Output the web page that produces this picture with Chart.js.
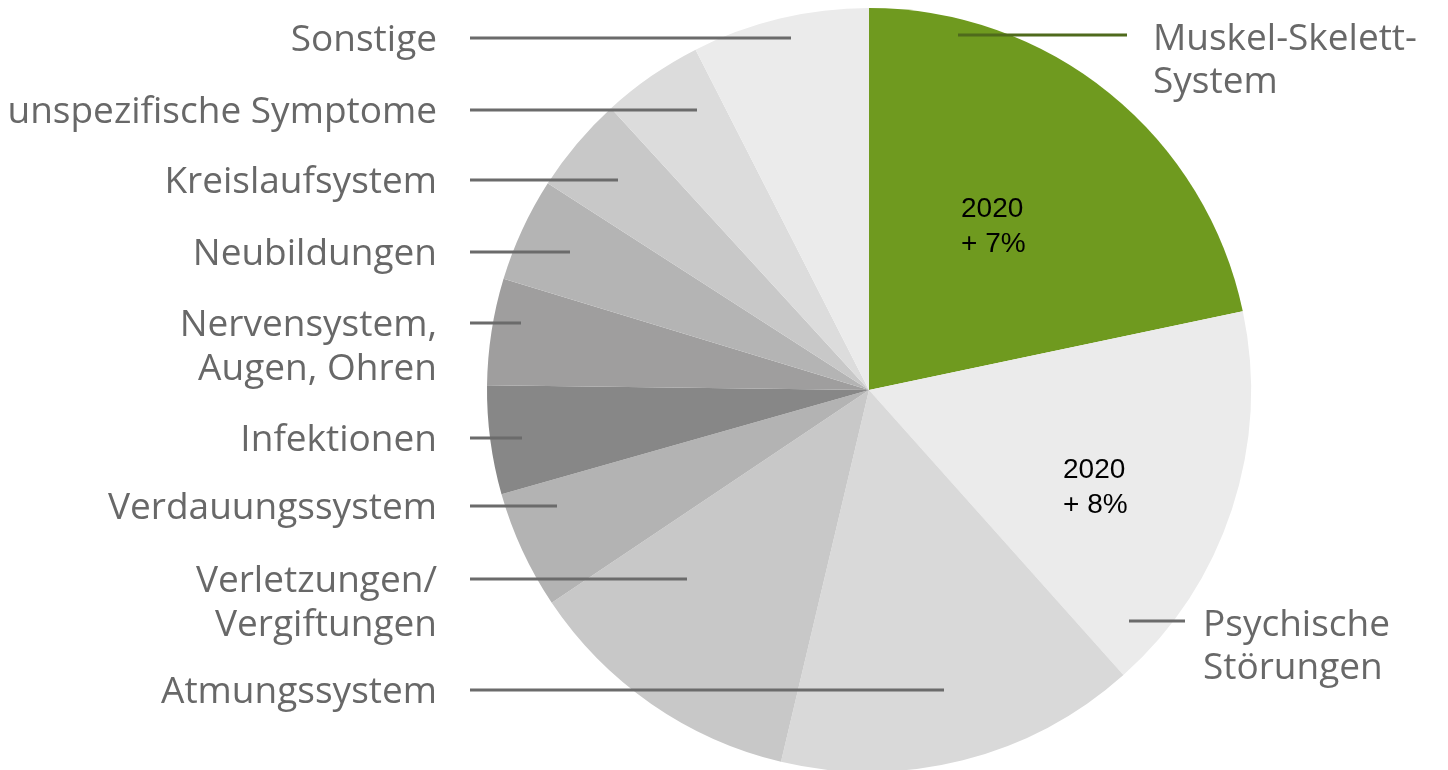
<!DOCTYPE html>
<html>
<head>
<meta charset="utf-8">
<script src="https://cdn.jsdelivr.net/npm/chart.js@4/dist/chart.umd.min.js"></script>
<style>
  html, body { margin: 0; padding: 0; background: #fff; overflow: hidden; }
  #wrap { position: absolute; left: 0; top: 0; width: 1448px; height: 780px; }
</style>
</head>
<body>
<div id="wrap"><canvas id="pieChart" width="1448" height="780"></canvas></div>
<script>
// Anteile der Diagnosegruppen (%), im Uhrzeigersinn ab 12 Uhr
const categories = [
    'Muskel-Skelett-System', 'Psychische Störungen', 'Atmungssystem',
    'Verletzungen/Vergiftungen', 'Verdauungssystem', 'Infektionen',
    'Nervensystem, Augen, Ohren', 'Neubildungen', 'Kreislaufsystem',
    'unspezifische Symptome', 'Sonstige'
];
const shares = [21.7, 16.7, 15.3, 11.9, 5.0, 4.6, 4.5, 4.4, 4.1, 4.3, 7.5];
const sliceColors = [
    '#6f9a1f', '#ebebeb', '#d9d9d9', '#c8c8c8', '#b3b3b3', '#878787',
    '#9f9e9e', '#b4b4b4', '#c8c8c8', '#dcdcdc', '#ebebeb'
];
const changeNotes = [['2020', '+ 7%'], ['2020', '+ 8%']];

// Beschriftungen links: Textzeilen, Höhe der Linie, Ende der Linie
const leftLabels = [
    { lines: ['Sonstige'], y: 38, end: 791 },
    { lines: ['unspezifische Symptome'], y: 110, end: 697 },
    { lines: ['Kreislaufsystem'], y: 180, end: 618 },
    { lines: ['Neubildungen'], y: 252, end: 570 },
    { lines: ['Nervensystem,', 'Augen, Ohren'], y: 323, end: 521 },
    { lines: ['Infektionen'], y: 438, end: 522 },
    { lines: ['Verdauungssystem'], y: 506, end: 557 },
    { lines: ['Verletzungen/', 'Vergiftungen'], y: 579, end: 687 },
    { lines: ['Atmungssystem'], y: 690, end: 944 }
];
const rightLabels = [
    { lines: ['Muskel-Skelett-', 'System'], y: 35, start: 958, stop: 1127, textX: 1153 },
    { lines: ['Psychische', 'Störungen'], y: 621, start: 1129, stop: 1185, textX: 1203 }
];

const labelPlugin = {
    id: 'leaderLabels',
    afterDraw(chart) {
        const ctx = chart.ctx;
        ctx.save();
        ctx.strokeStyle = '#6b6b6b';
        ctx.lineWidth = 3;
        ctx.fillStyle = '#686868';
        ctx.font = '37px "Open Sans", sans-serif';
        ctx.textBaseline = 'alphabetic';

        leftLabels.forEach(l => {
            ctx.beginPath();
            ctx.moveTo(470, l.y);
            ctx.lineTo(l.end, l.y);
            ctx.stroke();
            ctx.textAlign = 'right';
            l.lines.forEach((t, i) => ctx.fillText(t, 437, l.y + 13 + i * 44));
        });

        rightLabels.forEach(l => {
            ctx.strokeStyle = l.start < 1000 ? '#4f6a1c' : '#6b6b6b';
            ctx.beginPath();
            ctx.moveTo(l.start, l.y);
            ctx.lineTo(l.stop, l.y);
            ctx.stroke();
            ctx.textAlign = 'left';
            l.lines.forEach((t, i) => ctx.fillText(t, l.textX, l.y + 15 + i * 43));
        });

        // Veränderung 2020 in den beiden größten Segmenten
        ctx.fillStyle = '#000';
        ctx.font = '28px "Liberation Sans", Arial, sans-serif';
        ctx.textAlign = 'left';
        const notePos = [[961, 217], [1063, 478]];
        changeNotes.forEach((n, i) => {
            n.forEach((t, j) => ctx.fillText(t, notePos[i][0], notePos[i][1] + j * 35));
        });
        ctx.restore();
    }
};

new Chart(document.getElementById('pieChart').getContext('2d'), {
    type: 'pie',
    data: {
        labels: categories,
        datasets: [{
            data: shares,
            backgroundColor: sliceColors,
            borderWidth: 0
        }]
    },
    options: {
        responsive: false,
        animation: false,
        layout: { padding: { left: 487, right: 197, top: 8, bottom: 8 } },
        plugins: {
            legend: { display: false },
            tooltip: { enabled: false }
        }
    },
    plugins: [labelPlugin]
});
</script>
</body>
</html>
